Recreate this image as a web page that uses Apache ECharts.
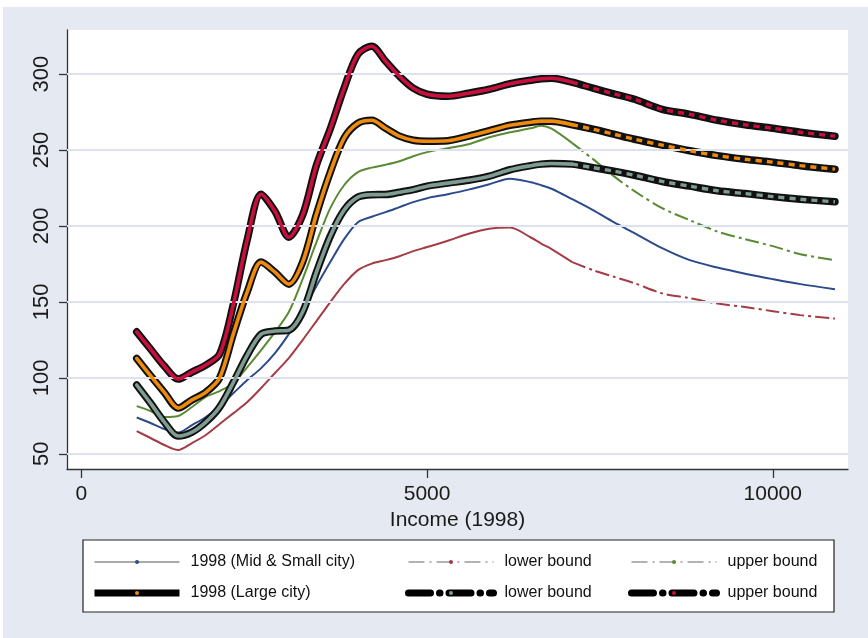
<!DOCTYPE html>
<html>
<head>
<meta charset="utf-8">
<script src="https://cdn.jsdelivr.net/npm/echarts@6/dist/echarts.min.js"></script>
<style>
  html, body { margin: 0; padding: 0; background: #ffffff; }
  #frame { position: absolute; left: 3px; top: 7px; width: 865px; height: 631px; background: #e4e9f2; }
  #main { position: absolute; left: 0; top: 0; width: 868px; height: 638px; }
</style>
</head>
<body>
<div id="frame"></div>
<div id="main"></div>
<script>
// Income levels (1998) at which the curves are evaluated
const income = [800, 1000, 1200, 1400, 1600, 1800, 2000, 2200, 2400, 2600,
                2800, 3000, 3200, 3400, 3600, 3800, 4000, 4200, 4400, 4600,
                4800, 5000, 5300, 5600, 5900, 6200, 6500, 6650, 6800, 7100,
                7400, 7700, 8000, 8400, 8800, 9200, 9600, 10000, 10400, 10900];

// Mid & small cities: estimate with its lower / upper bounds
const midSmall = [73.9, 70.3, 66.3, 64.0, 68.9, 74.2, 81.5, 90.0, 98.6, 106.4,
                  116.3, 128.8, 143.3, 160.4, 176.2, 191.3, 202.5, 206.1, 209.1, 212.4,
                  215.7, 218.3, 220.9, 223.9, 227.5, 231.1, 228.8, 226.8, 224.5, 217.6,
                  210.4, 202.5, 195.3, 185.4, 177.5, 172.6, 168.6, 165.0, 161.7, 158.4];
const midSmallLower = [65.0, 60.4, 55.8, 52.5, 57.1, 62.4, 69.6, 76.8, 84.1, 93.3,
                       103.2, 113.0, 124.9, 137.4, 149.9, 161.7, 170.9, 175.2, 177.5, 180.1,
                       183.4, 186.1, 190.3, 194.9, 198.2, 199.0, 192.4, 188.4, 184.8, 176.2,
                       170.9, 166.6, 162.3, 155.6, 152.5, 148.9, 146.6, 143.9, 141.3, 139.0];
const midSmallUpper = [81.4, 78.2, 74.2, 74.9, 80.8, 87.4, 91.3, 96.6, 107.1, 118.3,
                       130.1, 143.3, 165.0, 189.3, 211.7, 226.8, 235.4, 238.4, 240.3, 242.6,
                       245.9, 248.6, 251.2, 253.8, 258.4, 261.7, 264.3, 266.0, 264.0, 254.5,
                       244.0, 232.8, 222.9, 211.7, 203.8, 196.3, 191.3, 186.7, 181.4, 177.5];

// Large cities: estimate with its lower / upper bounds
const large = [112.8, 101.4, 90.4, 80.1, 85.5, 90.5, 100.0, 129.3, 156.8, 176.2,
               169.6, 161.7, 176.2, 207.8, 235.4, 257.8, 267.6, 269.6, 264.3, 259.1,
               256.4, 255.8, 256.1, 259.1, 262.7, 266.3, 268.3, 269.0, 269.0, 266.6,
               263.7, 260.4, 257.1, 253.2, 249.5, 246.3, 243.9, 242.0, 239.7, 237.4];
const largeLower = [95.3, 83.4, 70.9, 61.7, 64.3, 70.9, 80.8, 97.2, 115.0, 128.8,
                    130.8, 131.4, 143.3, 169.6, 193.3, 210.4, 219.0, 220.6, 220.7, 222.2,
                    223.9, 226.2, 228.2, 230.1, 232.8, 237.0, 239.7, 240.7, 241.1, 240.7,
                    238.4, 236.1, 233.4, 229.3, 226.2, 223.2, 221.3, 219.3, 217.6, 215.9];
const largeUpper = [130.3, 119.0, 107.7, 99.2, 103.8, 108.4, 115.7, 148.8, 191.2, 220.9,
                    209.7, 192.6, 207.1, 240.0, 264.0, 290.7, 313.0, 318.3, 308.4, 298.6,
                    290.7, 286.7, 285.4, 287.4, 290.0, 293.6, 295.9, 296.9, 297.2, 294.6,
                    290.7, 287.0, 283.4, 276.8, 273.5, 269.6, 266.6, 264.3, 261.7, 259.1];

// Axis ticks
const yTicks = [50, 100, 150, 200, 250, 300];
const xTicks = [0, 5000, 10000];

// Legend wording
const legendText = {
  '1998 (Mid & Small city)': '1998 (Mid & Small city)',
  'lower bound (Mid & Small city)': 'lower bound',
  'upper bound (Mid & Small city)': 'upper bound',
  '1998 (Large city)': '1998 (Large city)',
  'lower bound (Large city)': 'lower bound',
  'upper bound (Large city)': 'upper bound'
};

const FONT = '"Liberation Sans", Arial, Helvetica, sans-serif';
const COL = {
  navy: '#2b4b8a', maroon: '#a43c46', green: '#5b8a34',
  orange: '#ee8a0c', teal: '#7f9c93', red: '#c8103e'
};
const SMOOTH = 0.3;
const TAIL_FROM = 7100; // markers thin out beyond this income

function pairs(ys) { return income.map((x, i) => [x, ys[i]]); }

// A thin series; bound curves turn dash-dot where the markers thin out
function thinSeries(name, ys, color, isBound) {
  const all = pairs(ys);
  const list = [{
    type: 'line', name: name, data: isBound ? all.filter(p => p[0] <= TAIL_FROM) : all,
    smooth: SMOOTH, symbol: 'circle', showSymbol: false, z: 3,
    lineStyle: { color: color, width: 2 }, itemStyle: { color: color }
  }];
  if (isBound) {
    list.push({
      type: 'line', name: name + ' tail', data: all.filter(p => p[0] >= TAIL_FROM),
      smooth: SMOOTH, symbol: 'none', z: 3, silent: true,
      lineStyle: { color: color, width: 2, type: [14, 4, 3, 4] }
    });
  }
  return list;
}

// A thick series: black casing, coloured core (dense part solid, sparse tail dotted)
function thickSeries(name, ys, color) {
  const all = pairs(ys);
  return [
    {
      type: 'line', name: name + ' casing', data: all, smooth: SMOOTH,
      symbol: 'none', z: 4, silent: true,
      lineStyle: { color: '#111111', width: 7.5, cap: 'round', join: 'round' }
    },
    {
      type: 'line', name: name, data: all.filter(p => p[0] <= TAIL_FROM), smooth: SMOOTH,
      symbol: 'circle', showSymbol: false, z: 5,
      lineStyle: { color: color, width: 3.6, cap: 'round' }, itemStyle: { color: color }
    },
    {
      type: 'line', name: name + ' tail', data: all.filter(p => p[0] >= TAIL_FROM), smooth: SMOOTH,
      symbol: 'none', z: 5, silent: true,
      lineStyle: { color: color, width: 3.4, type: [6, 5] }
    }
  ];
}

const gridLineSeries = {
  type: 'line', name: 'grid lines', data: [], z: 1, silent: true,
  markLine: {
    symbol: 'none', silent: true, animation: false,
    label: { show: false },
    lineStyle: { color: '#dce2ee', width: 2, type: 'solid' },
    data: yTicks.map(v => ({ yAxis: v }))
  }
};

function legendItem(name, lineStyle) {
  return { name: name, lineStyle: lineStyle, itemStyle: { borderWidth: 0 } };
}
const thinIcon = { color: '#555555', width: 1, type: 'solid' };
const thinBoundIcon = { color: '#666666', width: 1, type: [16, 5, 2, 5] };
const thickIcon = { color: '#000000', width: 7, type: 'solid', cap: 'butt' };
const thickBoundIcon = { color: '#000000', width: 7, type: [22, 9, 0.5, 9], cap: 'round' };

function legendColumn(left, items) {
  return {
    orient: 'vertical', left: left, top: 554,
    itemWidth: 85, itemHeight: 5, itemGap: 15,
    selectedMode: false, padding: 0,
    formatter: n => legendText[n] || n,
    textStyle: { fontFamily: FONT, fontSize: 16, color: '#111111', padding: [0, 0, 0, 6] },
    data: items
  };
}

const chart = echarts.init(document.getElementById('main'), null, { renderer: 'canvas' });
chart.setOption({
  backgroundColor: 'transparent',
  animation: false,
  textStyle: { fontFamily: FONT },
  grid: {
    left: 67, right: 20, top: 30, bottom: 169,
    show: true, backgroundColor: '#ffffff', borderWidth: 0
  },
  xAxis: {
    type: 'value', min: -208, max: 11088,
    name: 'Income (1998)', nameLocation: 'middle', nameGap: 36,
    nameTextStyle: { fontFamily: FONT, fontSize: 21, color: '#1a1a1a' },
    axisLine: { show: true, onZero: false, lineStyle: { color: '#333333', width: 1.3 } },
    axisTick: { show: true, length: 9, customValues: xTicks, lineStyle: { color: '#333333', width: 1.3 } },
    axisLabel: {
      customValues: xTicks, formatter: v => String(v),
      fontFamily: FONT, fontSize: 21, color: '#1a1a1a', margin: 15
    },
    splitLine: { show: false }
  },
  yAxis: {
    type: 'value', min: 40, max: 329,
    axisLine: { show: true, onZero: false, lineStyle: { color: '#333333', width: 1.3 } },
    axisTick: { show: true, length: 8, customValues: yTicks, lineStyle: { color: '#333333', width: 1.3 } },
    axisLabel: {
      customValues: yTicks, formatter: v => String(v), rotate: 90,
      fontFamily: FONT, fontSize: 22, color: '#1a1a1a', margin: 14
    },
    splitLine: { show: false }
  },
  graphic: [{
    type: 'rect', z: 0,
    shape: { x: 83, y: 540, width: 751, height: 72 },
    style: { fill: '#ffffff', stroke: '#222222', lineWidth: 1.2 }
  }],
  legend: [
    legendColumn(91, [
      legendItem('1998 (Mid & Small city)', thinIcon),
      legendItem('1998 (Large city)', thickIcon)
    ]),
    legendColumn(405, [
      legendItem('lower bound (Mid & Small city)', thinBoundIcon),
      legendItem('lower bound (Large city)', thickBoundIcon)
    ]),
    legendColumn(628, [
      legendItem('upper bound (Mid & Small city)', thinBoundIcon),
      legendItem('upper bound (Large city)', thickBoundIcon)
    ])
  ],
  series: [
    gridLineSeries,
    ...thinSeries('1998 (Mid & Small city)', midSmall, COL.navy, false),
    ...thinSeries('lower bound (Mid & Small city)', midSmallLower, COL.maroon, true),
    ...thinSeries('upper bound (Mid & Small city)', midSmallUpper, COL.green, true),
    ...thickSeries('1998 (Large city)', large, COL.orange),
    ...thickSeries('lower bound (Large city)', largeLower, COL.teal),
    ...thickSeries('upper bound (Large city)', largeUpper, COL.red)
  ]
});
</script>
</body>
</html>
